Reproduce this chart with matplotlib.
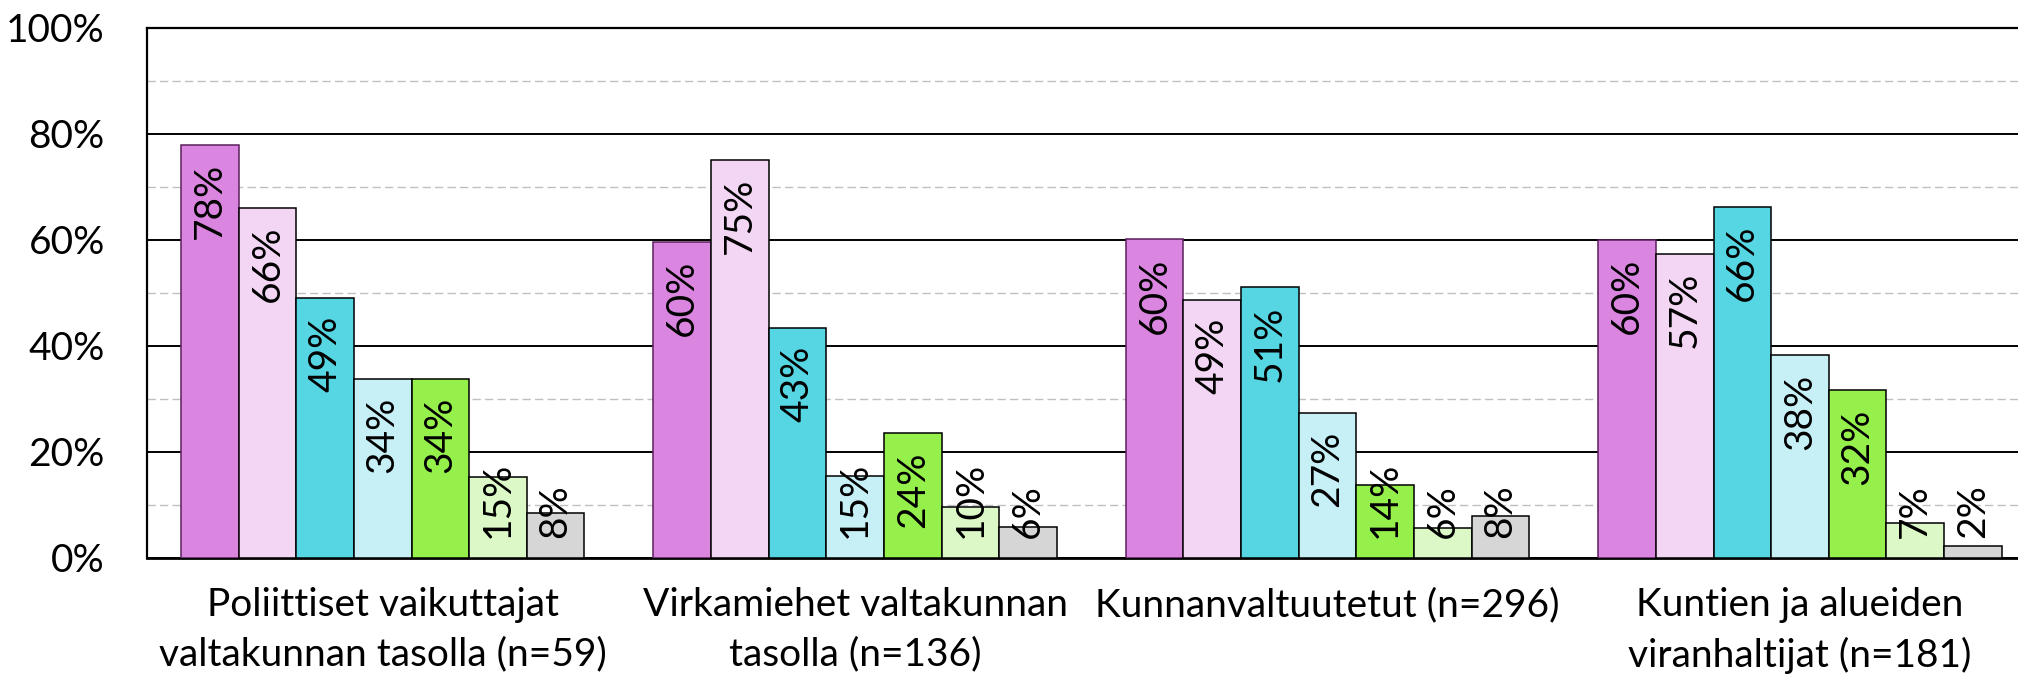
import matplotlib
matplotlib.use('Agg')
import matplotlib.pyplot as plt
import numpy as np

plt.rcParams['font.family'] = ['Lato', 'DejaVu Sans']

## Data
categories = [
    "Poliittiset vaikuttajat\nvaltakunnan tasolla (n=59)",
    "Virkamiehet valtakunnan\ntasolla (n=136)",
    "Kunnanvaltuutetut (n=296)",
    "Kuntien ja alueiden\nviranhaltijat (n=181)",
]
# one list per series (7 series, same order in every group)
s1 = [77.9, 59.6, 60.1, 60.0]
s2 = [66.0, 75.1, 48.7, 57.4]
s3 = [49.0, 43.4, 51.0, 66.2]
s4 = [33.8, 15.4, 27.3, 38.2]
s5 = [33.8, 23.5, 13.8, 31.6]
s6 = [15.3, 9.6, 5.7, 6.6]
s7 = [8.4, 5.8, 7.8, 2.2]
yticks = [0, 20, 40, 60, 80, 100]

series = [s1, s2, s3, s4, s5, s6, s7]
colors = ['#DA86E0', '#F3D6F3', '#56D6E3', '#C6F0F6', '#96F04B', '#DCF8C6', '#D6D6D6']
edges = ['#5B1F5B', 'black', 'black', 'black', 'black', 'black', 'black']

FS = 28

fig = plt.figure(figsize=(20.18, 6.85), dpi=100)
ax = fig.add_axes([0.0726, 0.1858, 0.9364, 0.7737])

x = np.arange(len(categories))
w = 0.122
texts = []
for i, (vals, c, ec) in enumerate(zip(series, colors, edges)):
    xs = x + (i - 3) * w
    ax.bar(xs, vals, width=w, color=c, edgecolor=ec, linewidth=1.1, zorder=3)
    for xx, v in zip(xs, vals):
        t = ax.text(xx, v - 3.4, "%d%%" % round(v), rotation=90, ha='center', va='top',
                    fontsize=FS, color='black', zorder=4)
        texts.append(t)

ax.set_xlim(-0.5, 3.5)
ax.set_ylim(0, 100)
ax.set_yticks(yticks)
ax.set_yticklabels(["%d%%" % v for v in yticks])
ax.set_yticks([10, 30, 50, 70, 90], minor=True)
ax.set_xticks(x)
ax.set_xticklabels(categories, linespacing=1.45)
ax.tick_params(axis='both', which='both', length=0, labelsize=FS)
ax.tick_params(axis='y', pad=30)
ax.tick_params(axis='x', pad=21)

ax.set_axisbelow(True)
ax.yaxis.grid(True, which='major', color='black', linewidth=1.4, zorder=0)
ax.yaxis.grid(True, which='minor', color='#C0C0C0', linewidth=1.0, linestyle=(0, (6, 3)), zorder=0)

for side in ['left', 'bottom', 'top']:
    ax.spines[side].set_color('black')
    ax.spines[side].set_linewidth(1.6)
ax.spines['bottom'].set_linewidth(2.0)
ax.spines['right'].set_visible(False)

## small bars: keep label clear of the axis line
fig.canvas.draw()
inv = ax.transData.inverted()
for t in texts:
    bb = t.get_window_extent()
    y0 = inv.transform((bb.x0, bb.y0))[1]
    if y0 < 3.8:
        t.set_va('bottom')
        t.set_y(3.8)

fig.savefig('out.png', dpi=100)
